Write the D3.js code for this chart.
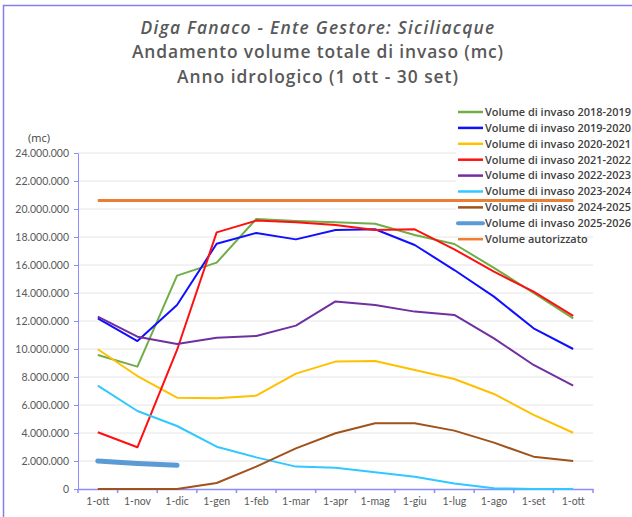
<!DOCTYPE html>
<html><head><meta charset="utf-8">
<script src="https://cdn.jsdelivr.net/npm/d3@7"></script>
<style>body{margin:0;background:#fff}svg{display:block}</style>
</head><body><svg id="c" width="632" height="517"></svg>
<script>
const categories = ["1-ott","1-nov","1-dic","1-gen","1-feb","1-mar","1-apr","1-mag","1-giu","1-lug","1-ago","1-set","1-ott"];
const yTicks = [0,2e6,4e6,6e6,8e6,10e6,12e6,14e6,16e6,18e6,20e6,22e6,24e6];
const v2018 = [9.57e6,8.74e6,15.24e6,16.17e6,19.29e6,19.14e6,19.05e6,18.95e6,18.14e6,17.5e6,15.8e6,14.0e6,12.19e6];
const v2019 = [12.19e6,10.57e6,13.14e6,17.52e6,18.29e6,17.83e6,18.5e6,18.55e6,17.43e6,15.64e6,13.74e6,11.48e6,10.0e6];
const v2020 = [9.98e6,8.07e6,6.52e6,6.48e6,6.67e6,8.24e6,9.1e6,9.14e6,8.5e6,7.86e6,6.79e6,5.29e6,4.02e6];
const v2021 = [4.05e6,2.98e6,9.93e6,18.33e6,19.17e6,19.05e6,18.85e6,18.5e6,18.55e6,17.12e6,15.52e6,14.1e6,12.36e6];
const v2022 = [12.31e6,10.88e6,10.36e6,10.81e6,10.93e6,11.67e6,13.4e6,13.14e6,12.67e6,12.43e6,10.76e6,8.86e6,7.38e6];
const v2023 = [7.38e6,5.57e6,4.5e6,3.02e6,2.26e6,1.6e6,1.52e6,1.19e6,0.88e6,0.4e6,0.05e6,0,0];
const v2024 = [0,0,0,0.43e6,1.6e6,2.9e6,3.98e6,4.69e6,4.69e6,4.17e6,3.31e6,2.31e6,2.0e6];
const v2025 = [2.0e6,1.83e6,1.69e6];
const vAut = [20.6e6,20.6e6,20.6e6,20.6e6,20.6e6,20.6e6,20.6e6,20.6e6,20.6e6,20.6e6,20.6e6,20.6e6,20.6e6];
const seriesNames = ["Volume di invaso 2018-2019","Volume di invaso 2019-2020","Volume di invaso 2020-2021","Volume di invaso 2021-2022","Volume di invaso 2022-2023","Volume di invaso 2023-2024","Volume di invaso 2024-2025","Volume di invaso 2025-2026","Volume autorizzato"];
const seriesValues = [v2018,v2019,v2020,v2021,v2022,v2023,v2024,v2025,vAut];
const seriesColors = ["#70ad47","#1010ff","#ffc000","#ff1010","#7030a0","#30c8ff","#a0521a","#5b9bd5","#ed7d31"];
const seriesWidths = [2,2,2,2,2,2,2,5,3];

const svg = d3.select("#c");
const F = "Lato, 'Open Sans', sans-serif";
const FB = "'Open Sans', sans-serif";
// fit a text element to a target width: font size (capped), then letter spacing
function fit(sel, w, maxFs){
  const n = sel.node(); const fs = +sel.attr("font-size");
  const cur = n.getComputedTextLength();
  if (cur<=0) return;
  let nfs = fs*w/cur;
  if (maxFs && nfs>maxFs) nfs = maxFs;
  sel.attr("font-size", nfs.toFixed(2));
  const c2 = n.getComputedTextLength();
  const chars = sel.text().length;
  if (c2 < w-1) sel.attr("letter-spacing", ((w-c2)/chars).toFixed(3));
}
// outer frame
svg.append("rect").attr("x",3.5).attr("y",5.5).attr("width",700).attr("height",600)
  .attr("fill","none").attr("stroke","#8080f0").attr("stroke-width",1.5);

const m = {l:78, r:593, t:153, b:489};
const x = d3.scaleBand().domain(d3.range(categories.length)).range([m.l,m.r]).padding(0);
const cx = i => x(i) + x.bandwidth()/2;
const y = d3.scaleLinear().domain([0,24e6]).range([m.b,m.t]);
const loc = d3.formatLocale({thousands:".",decimal:",",grouping:[3],currency:["",""]});
const fmt = loc.format(",");

// gridlines
svg.append("g").selectAll("line").data(yTicks.filter(d=>d>0)).join("line")
  .attr("x1",m.l).attr("x2",m.r).attr("y1",d=>y(d)).attr("y2",d=>y(d))
  .attr("stroke","#e6e6e6").attr("stroke-width",1);

// legend background
svg.append("rect").attr("x",456).attr("y",103).attr("width",176).attr("height",128).attr("fill","#fff");

// y axis
const ya = svg.append("g").attr("transform",`translate(${m.l},0)`)
  .call(d3.axisLeft(y).tickValues(yTicks).tickFormat(fmt).tickSize(4).tickSizeOuter(0));
ya.select(".domain").attr("stroke","#8c8cff");
ya.selectAll(".tick line").attr("stroke","#8c8cff");
ya.selectAll("text").attr("font-family",F).attr("font-size",10.5).attr("fill","#595959").attr("x",-9);

// x axis
const xa = svg.append("g").attr("transform",`translate(0,${m.b})`)
  .call(d3.axisBottom(x).tickFormat(i=>categories[i]).tickSize(0).tickSizeOuter(0));
xa.select(".domain").attr("stroke","#8c8cff").attr("stroke-width",1.5);
xa.selectAll("text").attr("font-family",F).attr("font-size",10.5).attr("fill","#595959").attr("dy","1.25em");
svg.append("g").selectAll("line").data(d3.range(categories.length+1)).join("line")
  .attr("x1",i=> i<categories.length? x(i): m.r).attr("x2",i=> i<categories.length? x(i): m.r)
  .attr("y1",m.b).attr("y2",m.b+4).attr("stroke","#8c8cff").attr("stroke-width",1.5);

// lines
const line = d3.line().x((d,i)=>cx(i)).y(d=>y(d));
seriesValues.forEach((vals,k)=>{
  svg.append("path").datum(vals).attr("d",line).attr("fill","none")
    .attr("stroke",seriesColors[k]).attr("stroke-width",seriesWidths[k])
    .attr("stroke-linejoin","round").attr("stroke-linecap", k===7?"round":"butt");
});

// legend
const lg = svg.append("g");
seriesNames.forEach((n,k)=>{
  const yy = 112 + k*15.9;
  lg.append("line").attr("x1",458).attr("x2",483).attr("y1",yy).attr("y2",yy)
    .attr("stroke",seriesColors[k]).attr("stroke-width",k===7?4:2.5).attr("stroke-linecap",k===7?"round":"butt");
  const t = lg.append("text").attr("x",485).attr("y",yy).attr("dy","0.35em").text(n)
    .attr("font-family",FB).attr("font-size",11).attr("font-weight",600).attr("fill","#404040");
  if (k===0) fit(t,146);
});
const lfs = lg.select("text").attr("font-size");
lg.selectAll("text").attr("font-size",lfs);

// y unit label
svg.append("text").attr("x",28).attr("y",142).text("(mc)")
  .attr("font-family",FB).attr("font-size",11).attr("fill","#404040");

// title
const tl = [["Diga Fanaco - Ente Gestore: Siciliacque",33.5,"italic",355],["Andamento volume totale di invaso (mc)",58,"normal",372],["Anno idrologico (1 ott - 30 set)",83,"normal",282]];
tl.forEach(t=>{
  const e = svg.append("text").attr("x",318).attr("y",t[1]).attr("text-anchor","middle").text(t[0])
    .attr("font-family",FB).attr("font-size",17).attr("font-style",t[2]).attr("font-weight",600).attr("fill","#595959");
  fit(e,t[3],17.4);
});
</script></body></html>
